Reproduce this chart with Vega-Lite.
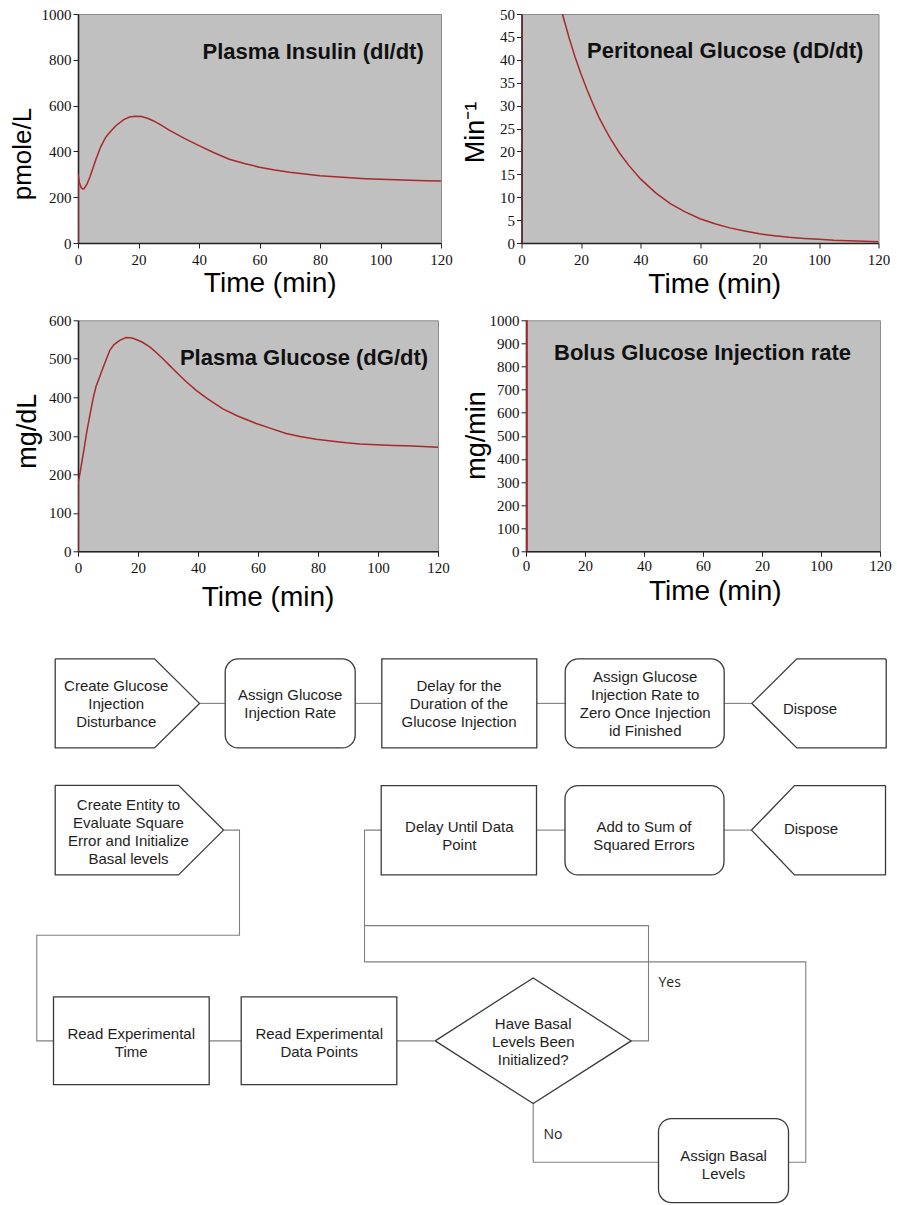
{
  "$schema": "https://vega.github.io/schema/vega-lite/v6.json",
  "background": "white",
  "padding": {"left": 8, "top": 6, "right": 0, "bottom": 0},
  "spacing": 13.3,
  "config": {
    "view": {"fill": "#c0c0c0", "stroke": "#8c8c8c", "strokeWidth": 1},
    "axis": {"grid": false, "labelFont": "Liberation Serif", "labelFontSize": 15, "labelColor": "#111111", "labelFlush": false, "labelOverlap": false, "domainColor": "#222222", "domainWidth": 1.6, "tickColor": "#222222", "tickSize": 5, "titleFont": "Liberation Sans", "titleFontWeight": "normal", "titleColor": "#000000"}
  },
  "datasets": {
    "insulin": [
      {"t": 0, "v": 0}, {"t": 0, "v": 300}, {"t": 0.5, "v": 262}, {"t": 1, "v": 243}, {"t": 1.5, "v": 236},
      {"t": 2, "v": 237}, {"t": 3, "v": 258}, {"t": 4, "v": 290}, {"t": 5, "v": 330}, {"t": 6, "v": 368},
      {"t": 7.5, "v": 420}, {"t": 9, "v": 458}, {"t": 10, "v": 476}, {"t": 12.5, "v": 512}, {"t": 15, "v": 538},
      {"t": 17, "v": 550}, {"t": 19, "v": 553}, {"t": 21, "v": 552}, {"t": 23, "v": 545}, {"t": 25, "v": 533},
      {"t": 27.5, "v": 515}, {"t": 30, "v": 494}, {"t": 35, "v": 458}, {"t": 40, "v": 425}, {"t": 45, "v": 394},
      {"t": 50, "v": 366}, {"t": 55, "v": 347}, {"t": 60, "v": 331}, {"t": 65, "v": 319}, {"t": 70, "v": 309},
      {"t": 75, "v": 301}, {"t": 80, "v": 294}, {"t": 85, "v": 289}, {"t": 90, "v": 285}, {"t": 95, "v": 281},
      {"t": 100, "v": 278}, {"t": 105, "v": 276}, {"t": 110, "v": 274}, {"t": 115, "v": 272}, {"t": 120, "v": 271}
    ],
    "peritoneal": [
      {"t": 0, "v": 0}, {"t": 0, "v": 97.6}, {"t": 2, "v": 88.6}, {"t": 4, "v": 80.3}, {"t": 6, "v": 72.9},
      {"t": 8, "v": 66.1}, {"t": 10, "v": 60.0}, {"t": 12, "v": 54.4}, {"t": 14, "v": 49.4}, {"t": 16, "v": 44.8},
      {"t": 18, "v": 40.6}, {"t": 20, "v": 36.9}, {"t": 22, "v": 33.5}, {"t": 24, "v": 30.4}, {"t": 26, "v": 27.5},
      {"t": 28, "v": 25.0}, {"t": 30, "v": 22.7}, {"t": 33, "v": 19.6}, {"t": 36, "v": 17.0}, {"t": 40, "v": 14.0},
      {"t": 45, "v": 11.0}, {"t": 50, "v": 8.6}, {"t": 55, "v": 6.8}, {"t": 60, "v": 5.3}, {"t": 65, "v": 4.2},
      {"t": 70, "v": 3.3}, {"t": 75, "v": 2.6}, {"t": 80, "v": 2.0}, {"t": 85, "v": 1.6}, {"t": 90, "v": 1.25},
      {"t": 95, "v": 1.0}, {"t": 100, "v": 0.8}, {"t": 105, "v": 0.6}, {"t": 110, "v": 0.48}, {"t": 115, "v": 0.37},
      {"t": 120, "v": 0.29}
    ],
    "glucose": [
      {"t": 0, "v": 0}, {"t": 0, "v": 176}, {"t": 0.5, "v": 195}, {"t": 1.1, "v": 223}, {"t": 2, "v": 265},
      {"t": 2.8, "v": 305}, {"t": 4, "v": 355}, {"t": 5, "v": 396}, {"t": 6, "v": 428}, {"t": 7.2, "v": 453},
      {"t": 8.5, "v": 480}, {"t": 10.6, "v": 522}, {"t": 12, "v": 537}, {"t": 13.9, "v": 548}, {"t": 16, "v": 555},
      {"t": 18, "v": 554}, {"t": 19.4, "v": 550}, {"t": 21.5, "v": 543}, {"t": 23.9, "v": 531}, {"t": 26, "v": 517},
      {"t": 28.3, "v": 500}, {"t": 30.5, "v": 483}, {"t": 33.3, "v": 461}, {"t": 36, "v": 441}, {"t": 39.4, "v": 418},
      {"t": 43, "v": 397}, {"t": 48.3, "v": 370}, {"t": 53, "v": 352}, {"t": 59.4, "v": 332}, {"t": 64, "v": 320},
      {"t": 69.4, "v": 306}, {"t": 74, "v": 298}, {"t": 79.4, "v": 291}, {"t": 85, "v": 286}, {"t": 89.4, "v": 282},
      {"t": 94, "v": 279}, {"t": 99.4, "v": 277}, {"t": 105, "v": 275}, {"t": 109.4, "v": 274}, {"t": 115, "v": 272},
      {"t": 120, "v": 270}
    ],
    "bolus": [
      {"t": 0, "v": 0}, {"t": 0, "v": 1500}, {"t": 0.35, "v": 1500}, {"t": 0.35, "v": 0}
    ],
    "boxes": [
      {"kind": "square", "x": 383.3, "x2": 538.3, "y": 659.3, "y2": 748.3},
      {"kind": "square", "x": 382.7, "x2": 538, "y": 786, "y2": 875.3},
      {"kind": "square", "x": 55, "x2": 210.7, "y": 997.3, "y2": 1085},
      {"kind": "square", "x": 242.7, "x2": 398.3, "y": 997.3, "y2": 1085},
      {"kind": "round", "x": 226.7, "x2": 356.7, "y": 659.3, "y2": 748.3},
      {"kind": "round", "x": 566.7, "x2": 725.7, "y": 659.3, "y2": 748.3},
      {"kind": "round", "x": 566.5, "x2": 725.5, "y": 786, "y2": 875.3},
      {"kind": "round", "x": 660, "x2": 790, "y": 1119, "y2": 1203}
    ],
    "polys": [
      {"id": "create1", "k": 1, "x": 56.7, "y": 659.3}, {"id": "create1", "k": 2, "x": 156, "y": 659.3},
      {"id": "create1", "k": 3, "x": 201, "y": 703.8}, {"id": "create1", "k": 4, "x": 156, "y": 748.3},
      {"id": "create1", "k": 5, "x": 56.7, "y": 748.3}, {"id": "create1", "k": 6, "x": 56.7, "y": 659.3},
      {"id": "dispose1", "k": 1, "x": 887.7, "y": 659.3}, {"id": "dispose1", "k": 2, "x": 798.3, "y": 659.3},
      {"id": "dispose1", "k": 3, "x": 753.3, "y": 703.8}, {"id": "dispose1", "k": 4, "x": 798.3, "y": 748.3},
      {"id": "dispose1", "k": 5, "x": 887.7, "y": 748.3}, {"id": "dispose1", "k": 6, "x": 887.7, "y": 659.3},
      {"id": "create2", "k": 1, "x": 56.7, "y": 785.7}, {"id": "create2", "k": 2, "x": 180, "y": 785.7},
      {"id": "create2", "k": 3, "x": 225, "y": 830.5}, {"id": "create2", "k": 4, "x": 180, "y": 875.3},
      {"id": "create2", "k": 5, "x": 56.7, "y": 875.3}, {"id": "create2", "k": 6, "x": 56.7, "y": 785.7},
      {"id": "dispose2", "k": 1, "x": 887, "y": 786}, {"id": "dispose2", "k": 2, "x": 796, "y": 786},
      {"id": "dispose2", "k": 3, "x": 753, "y": 830.5}, {"id": "dispose2", "k": 4, "x": 796, "y": 875.3},
      {"id": "dispose2", "k": 5, "x": 887, "y": 875.3}, {"id": "dispose2", "k": 6, "x": 887, "y": 786},
      {"id": "diamond", "k": 1, "x": 436.7, "y": 1041.3}, {"id": "diamond", "k": 2, "x": 534.7, "y": 978.3},
      {"id": "diamond", "k": 3, "x": 632.7, "y": 1041.3}, {"id": "diamond", "k": 4, "x": 534.7, "y": 1104},
      {"id": "diamond", "k": 5, "x": 436.7, "y": 1041.3}
    ],
    "links": [
      {"id": "L1", "k": 1, "x": 201, "y": 703.8}, {"id": "L1", "k": 2, "x": 226.7, "y": 703.8},
      {"id": "L2", "k": 1, "x": 356.7, "y": 703.8}, {"id": "L2", "k": 2, "x": 383.3, "y": 703.8},
      {"id": "L3", "k": 1, "x": 538.3, "y": 703.8}, {"id": "L3", "k": 2, "x": 566.7, "y": 703.8},
      {"id": "L4", "k": 1, "x": 725.7, "y": 703.8}, {"id": "L4", "k": 2, "x": 753.3, "y": 703.8},
      {"id": "L5", "k": 1, "x": 538, "y": 830.5}, {"id": "L5", "k": 2, "x": 566.5, "y": 830.5},
      {"id": "L6", "k": 1, "x": 725.5, "y": 830.5}, {"id": "L6", "k": 2, "x": 753, "y": 830.5},
      {"id": "L7", "k": 1, "x": 225, "y": 830.5}, {"id": "L7", "k": 2, "x": 241, "y": 830.5},
      {"id": "L7", "k": 3, "x": 241, "y": 935.7}, {"id": "L7", "k": 4, "x": 38.3, "y": 935.7},
      {"id": "L7", "k": 5, "x": 38.3, "y": 1041.3}, {"id": "L7", "k": 6, "x": 55, "y": 1041.3},
      {"id": "L8", "k": 1, "x": 210.7, "y": 1041.3}, {"id": "L8", "k": 2, "x": 242.7, "y": 1041.3},
      {"id": "L9", "k": 1, "x": 398.3, "y": 1041.3}, {"id": "L9", "k": 2, "x": 436.7, "y": 1041.3},
      {"id": "L10", "k": 1, "x": 632.7, "y": 1041.3}, {"id": "L10", "k": 2, "x": 650, "y": 1041.3},
      {"id": "L10", "k": 3, "x": 650, "y": 926}, {"id": "L10", "k": 4, "x": 366, "y": 926},
      {"id": "L10", "k": 5, "x": 366, "y": 830.5}, {"id": "L10", "k": 6, "x": 382.7, "y": 830.5},
      {"id": "L11", "k": 1, "x": 790, "y": 1162.7}, {"id": "L11", "k": 2, "x": 807.3, "y": 1162.7},
      {"id": "L11", "k": 3, "x": 807.3, "y": 962.3}, {"id": "L11", "k": 4, "x": 366, "y": 962.3},
      {"id": "L11", "k": 5, "x": 366, "y": 926},
      {"id": "L12", "k": 1, "x": 534.7, "y": 1104}, {"id": "L12", "k": 2, "x": 534.7, "y": 1162.7},
      {"id": "L12", "k": 3, "x": 660, "y": 1162.7}
    ],
    "labels": [
      {"x": 117.7, "y": 686.5, "label": "Create Glucose\nInjection\nDisturbance"},
      {"x": 291.7, "y": 695, "label": "Assign Glucose\nInjection Rate"},
      {"x": 460.5, "y": 686, "label": "Delay for the\nDuration of the\nGlucose Injection"},
      {"x": 646.7, "y": 677.3, "label": "Assign Glucose\nInjection Rate to\nZero Once Injection\nid Finished"},
      {"x": 811.5, "y": 709, "label": "Dispose"},
      {"x": 130, "y": 805, "label": "Create Entity to\nEvaluate Square\nError and Initialize\nBasal levels"},
      {"x": 460.8, "y": 827, "label": "Delay Until Data\nPoint"},
      {"x": 645.5, "y": 827, "label": "Add to Sum of\nSquared Errors"},
      {"x": 812.5, "y": 829, "label": "Dispose"},
      {"x": 132.7, "y": 1034.3, "label": "Read Experimental\nTime"},
      {"x": 320.7, "y": 1034.3, "label": "Read Experimental\nData Points"},
      {"x": 534.7, "y": 1024.3, "label": "Have Basal\nLevels Been\nInitialized?"},
      {"x": 725, "y": 1156, "label": "Assign Basal\nLevels"}
    ],
    "notes": [
      {"x": 660, "y": 983.3, "label": "Yes"},
      {"x": 545, "y": 1135, "label": "No"}
    ]
  },
  "vconcat": [
    {
      "spacing": 7.5,
      "hconcat": [
        {
          "width": 363, "height": 229,
          "encoding": {
            "x": {"field": "t", "type": "quantitative", "scale": {"domain": [0, 120], "nice": false},
                  "axis": {"values": [0, 20, 40, 60, 80, 100, 120], "format": "d", "labelFont": "Liberation Serif", "labelFontSize": 15, "labelPadding": 4, "labelFlush": false, "labelOverlap": false,
                           "title": "Time (min)", "titleFontSize": 28, "titleAngle": 0, "titleAlign": "center", "titleBaseline": "alphabetic", "titleX": 191.7, "titleY": 48}},
            "y": {"field": "v", "type": "quantitative", "scale": {"domain": [0, 1000], "nice": false},
                  "axis": {"values": [0, 200, 400, 600, 800, 1000], "format": "d", "labelFont": "Liberation Serif", "labelFontSize": 15, "labelPadding": 2, "labelFlush": false, "labelOverlap": false,
                           "title": "pmole/L", "titleFontSize": 26, "titleAngle": 270, "titleAlign": "center", "titleBaseline": "top", "titleX": -69, "titleY": 139.5}}
          },
          "layer": [
            {
              "data": {"name": "insulin"},
              "mark": {"type": "line", "color": "#a8282c", "strokeWidth": 1.5, "clip": true}
            },
            {
              "data": {"values": [{"t": 114.3, "v": 803.5, "label": "Plasma Insulin (dI/dt)"}]},
              "mark": {"type": "text", "align": "right", "baseline": "alphabetic", "font": "Liberation Sans", "fontWeight": "bold", "fontSize": 22, "color": "#111111"},
              "encoding": {"text": {"field": "label"}}
            }
          ]
        },
        {
          "width": 357, "height": 229,
          "encoding": {
            "x": {"field": "t", "type": "quantitative", "scale": {"domain": [0, 120], "nice": false},
                  "axis": {"values": [0, 20, 40, 60, 80, 100, 120], "labelExpr": "datum.value == 80 ? '20' : datum.label", "format": "d", "labelFont": "Liberation Serif", "labelFontSize": 15, "labelPadding": 4, "labelFlush": false, "labelOverlap": false,
                           "title": "Time (min)", "titleFontSize": 28, "titleAngle": 0, "titleAlign": "center", "titleBaseline": "alphabetic", "titleX": 192.7, "titleY": 49}},
            "y": {"field": "v", "type": "quantitative", "scale": {"domain": [0, 50], "nice": false},
                  "axis": {"values": [0, 5, 10, 15, 20, 25, 30, 35, 40, 45, 50], "format": "d", "labelFont": "Liberation Serif", "labelFontSize": 15, "labelPadding": 2, "labelFlush": false, "labelOverlap": false,
                           "title": "Min⁻¹", "titleFontSize": 27, "titleAngle": 270, "titleAlign": "center", "titleBaseline": "top", "titleX": -58.6, "titleY": 118}}
          },
          "layer": [
            {
              "data": {"name": "peritoneal"},
              "mark": {"type": "line", "color": "#a8282c", "strokeWidth": 1.5, "clip": true}
            },
            {
              "data": {"values": [{"t": 114.9, "v": 40.3, "label": "Peritoneal Glucose (dD/dt)"}]},
              "mark": {"type": "text", "align": "right", "baseline": "alphabetic", "font": "Liberation Sans", "fontWeight": "bold", "fontSize": 22, "color": "#111111"},
              "encoding": {"text": {"field": "label"}}
            }
          ]
        }
      ]
    },
    {
      "spacing": 11,
      "hconcat": [
        {
          "width": 360, "height": 231,
          "encoding": {
            "x": {"field": "t", "type": "quantitative", "scale": {"domain": [0, 120], "nice": false},
                  "axis": {"values": [0, 20, 40, 60, 80, 100, 120], "format": "d", "labelFont": "Liberation Serif", "labelFontSize": 15, "labelPadding": 4, "labelFlush": false, "labelOverlap": false,
                           "title": "Time (min)", "titleFontSize": 28, "titleAngle": 0, "titleAlign": "center", "titleBaseline": "alphabetic", "titleX": 189.5, "titleY": 54}},
            "y": {"field": "v", "type": "quantitative", "scale": {"domain": [0, 600], "nice": false},
                  "axis": {"values": [0, 100, 200, 300, 400, 500, 600], "format": "d", "labelFont": "Liberation Serif", "labelFontSize": 15, "labelPadding": 2, "labelFlush": false, "labelOverlap": false,
                           "title": "mg/dL", "titleFontSize": 27, "titleAngle": 270, "titleAlign": "center", "titleBaseline": "top", "titleX": -63.8, "titleY": 110.5}}
          },
          "layer": [
            {
              "data": {"name": "glucose"},
              "mark": {"type": "line", "color": "#a8282c", "strokeWidth": 1.5, "clip": true}
            },
            {
              "data": {"values": [{"t": 116.7, "v": 485, "label": "Plasma Glucose (dG/dt)"}]},
              "mark": {"type": "text", "align": "right", "baseline": "alphabetic", "font": "Liberation Sans", "fontWeight": "bold", "fontSize": 22, "color": "#111111"},
              "encoding": {"text": {"field": "label"}}
            }
          ]
        },
        {
          "width": 354, "height": 231,
          "encoding": {
            "x": {"field": "t", "type": "quantitative", "scale": {"domain": [0, 120], "nice": false},
                  "axis": {"values": [0, 20, 40, 60, 80, 100, 120], "labelExpr": "datum.value == 80 ? '20' : datum.label", "format": "d", "labelFont": "Liberation Serif", "labelFontSize": 15, "labelPadding": 2, "labelFlush": false, "labelOverlap": false,
                           "title": "Time (min)", "titleFontSize": 28, "titleAngle": 0, "titleAlign": "center", "titleBaseline": "alphabetic", "titleX": 188.8, "titleY": 48}},
            "y": {"field": "v", "type": "quantitative", "scale": {"domain": [0, 1000], "nice": false},
                  "axis": {"values": [0, 100, 200, 300, 400, 500, 600, 700, 800, 900, 1000], "format": "d", "labelFont": "Liberation Serif", "labelFontSize": 15, "labelPadding": 2, "labelFlush": false, "labelOverlap": false,
                           "title": "mg/min", "titleFontSize": 27, "titleAngle": 270, "titleAlign": "center", "titleBaseline": "top", "titleX": -63, "titleY": 114.7}}
          },
          "layer": [
            {
              "data": {"name": "bolus"},
              "mark": {"type": "line", "color": "#a8282c", "strokeWidth": 1.5, "clip": true}
            },
            {
              "data": {"values": [{"t": 110.2, "v": 828, "label": "Bolus Glucose Injection rate"}]},
              "mark": {"type": "text", "align": "right", "baseline": "alphabetic", "font": "Liberation Sans", "fontWeight": "bold", "fontSize": 22, "color": "#111111"},
              "encoding": {"text": {"field": "label"}}
            }
          ]
        }
      ]
    },
    {
      "width": 812, "height": 582,
      "view": {"fill": null, "stroke": null},
      "encoding": {
        "x": {"field": "x", "type": "quantitative", "scale": {"domain": [79.5, 891.5], "nice": false, "zero": false}, "axis": null},
        "y": {"field": "y", "type": "quantitative", "scale": {"domain": [626, 1208], "nice": false, "zero": false, "reverse": true}, "axis": null}
      },
      "layer": [
        {
          "data": {"name": "links"},
          "mark": {"type": "line", "color": "#808080", "strokeWidth": 1.1},
          "encoding": {"detail": {"field": "id"}, "order": {"field": "k", "type": "quantitative"}}
        },
        {
          "data": {"name": "polys"},
          "mark": {"type": "line", "color": "#3a3a3a", "strokeWidth": 1.3, "strokeJoin": "miter"},
          "encoding": {"detail": {"field": "id"}, "order": {"field": "k", "type": "quantitative"}}
        },
        {
          "data": {"name": "boxes"},
          "transform": [{"filter": "datum.kind == 'square'"}],
          "mark": {"type": "rect", "fill": "white", "stroke": "#3a3a3a", "strokeWidth": 1.3},
          "encoding": {"x2": {"field": "x2"}, "y2": {"field": "y2"}}
        },
        {
          "data": {"name": "boxes"},
          "transform": [{"filter": "datum.kind == 'round'"}],
          "mark": {"type": "rect", "fill": "white", "stroke": "#3a3a3a", "strokeWidth": 1.3, "cornerRadius": 13},
          "encoding": {"x2": {"field": "x2"}, "y2": {"field": "y2"}}
        },
        {
          "data": {"name": "labels"},
          "mark": {"type": "text", "align": "center", "baseline": "middle", "font": "Liberation Sans", "fontSize": 15, "lineHeight": 18, "lineBreak": "\n", "color": "#1e1e1e"},
          "encoding": {"text": {"field": "label"}}
        },
        {
          "data": {"name": "notes"},
          "mark": {"type": "text", "align": "left", "baseline": "middle", "font": "Open Sans", "fontSize": 14, "color": "#1e1e1e"},
          "encoding": {"text": {"field": "label"}}
        }
      ]
    }
  ]
}
